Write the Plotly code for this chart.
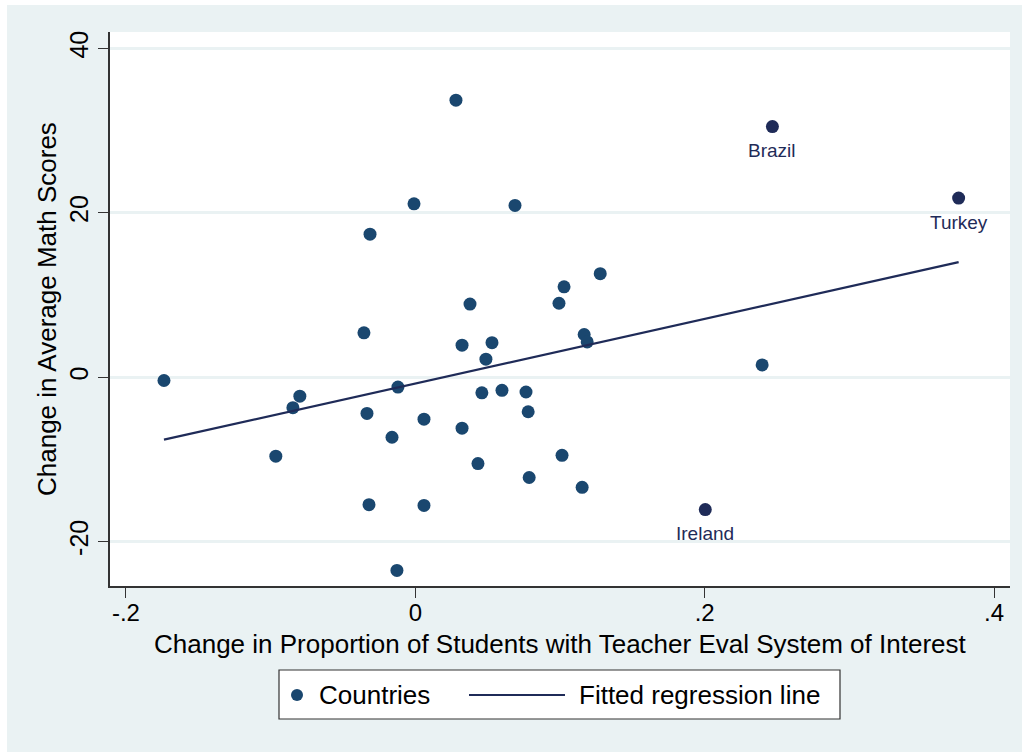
import plotly.graph_objects as go

# Change in share of students under a teacher evaluation system vs change in math scores
prop_change = [
    -0.1737, -0.0964, -0.0846, -0.0798, -0.0355, -0.0334, -0.0320, -0.0313,
    -0.0161, -0.0127, -0.0120, -0.0009, 0.0060, 0.0060, 0.0281, 0.0323,
    0.0323, 0.0378, 0.0433, 0.0460, 0.0488, 0.0530, 0.0599, 0.0689,
    0.0765, 0.0780, 0.0787, 0.0993, 0.1014, 0.1028, 0.1153, 0.1167,
    0.1188, 0.1278, 0.2397,
]
score_change = [
    -0.4, -9.6, -3.7, -2.3, 5.4, -4.4, -15.5, 17.4,
    -7.3, -23.5, -1.2, 21.1, -5.1, -15.6, 33.7, -6.2,
    3.9, 8.9, -10.5, -1.9, 2.2, 4.2, -1.6, 20.9,
    -1.8, -4.2, -12.2, 9.0, -9.5, 11.0, -13.4, 5.2,
    4.3, 12.6, 1.5,
]

# Highlighted countries
hl_names = ["Brazil", "Turkey", "Ireland"]
hl_prop = [0.2468, 0.3755, 0.2004]
hl_score = [30.5, 21.8, -16.1]

# Fitted regression line end points
fit_x = [-0.1737, 0.3755]
fit_y = [-7.6, 14.0]

x_ticks = [-0.2, 0, 0.2, 0.4]
x_tick_text = ["-.2", "0", ".2", ".4"]
y_ticks = [-20, 0, 20, 40]
y_tick_text = ["-20", "0", "20", "40"]

FONT = "Liberation Sans, Arial, sans-serif"
BG = "#EAF2F3"
NAVY = "#1a476f"
DKNAVY = "#1f2b58"
AXIS = "#333333"

fig = go.Figure()

fig.add_trace(go.Scatter(
    x=prop_change, y=score_change, mode="markers",
    marker=dict(size=13, color=NAVY, line=dict(width=0)),
    name="Countries", showlegend=False,
))
fig.add_trace(go.Scatter(
    x=hl_prop, y=hl_score, mode="markers",
    marker=dict(size=13, color=DKNAVY, line=dict(width=0)),
    showlegend=False,
))
fig.add_trace(go.Scatter(
    x=fit_x, y=fit_y, mode="lines",
    line=dict(color=DKNAVY, width=2.2),
    name="Fitted regression line", showlegend=False,
))

annotations = []
for name, px, py in zip(hl_names, hl_prop, hl_score):
    annotations.append(dict(
        x=px, y=py, xref="x", yref="y", text=name, showarrow=False,
        yshift=-24, xanchor="center", yanchor="middle",
        font=dict(family=FONT, size=19, color=DKNAVY),
    ))

# Plot area in pixels: x 110..1010, y 32..586
L, R, T, B = 110, 1010, 32, 586
def px_x(p):
    return (p - L) / (R - L)
def px_y(p):
    return (B - p) / (B - T)

# Axis titles
annotations.append(dict(
    x=0.5, y=px_y(644), xref="paper", yref="paper", showarrow=False,
    text="Change in Proportion of Students with Teacher Eval System of Interest",
    xanchor="center", yanchor="middle",
    font=dict(family=FONT, size=26, color="black"),
))
annotations.append(dict(
    x=px_x(47), y=0.5, xref="paper", yref="paper", showarrow=False,
    text="Change in Average Math Scores", textangle=-90,
    xanchor="center", yanchor="middle",
    font=dict(family=FONT, size=26, color="black"),
))

# Legend box with marker and line keys
leg_cy = 695
annotations.append(dict(
    x=px_x(317), y=px_y(leg_cy), xref="paper", yref="paper", showarrow=False,
    text="Countries", xanchor="left", yanchor="middle",
    font=dict(family=FONT, size=26, color="black"),
))
annotations.append(dict(
    x=px_x(577), y=px_y(leg_cy), xref="paper", yref="paper", showarrow=False,
    text="Fitted regression line", xanchor="left", yanchor="middle",
    font=dict(family=FONT, size=26, color="black"),
))

shapes = [
    # outer background with a thin white margin at top and left
    dict(type="rect", xref="paper", yref="paper", layer="below",
         x0=px_x(0), x1=px_x(1022), y0=px_y(0), y1=px_y(5),
         fillcolor="white", line=dict(width=0)),
    dict(type="rect", xref="paper", yref="paper", layer="below",
         x0=px_x(0), x1=px_x(7), y0=px_y(0), y1=px_y(752),
         fillcolor="white", line=dict(width=0)),
    dict(type="rect", xref="paper", yref="paper",
         x0=px_x(279), x1=px_x(840), y0=px_y(670), y1=px_y(719),
         fillcolor="white", line=dict(color=AXIS, width=1.2)),
    dict(type="circle", xref="paper", yref="paper",
         x0=px_x(291), x1=px_x(303), y0=px_y(leg_cy - 6), y1=px_y(leg_cy + 6),
         fillcolor=NAVY, line=dict(width=0)),
    dict(type="line", xref="paper", yref="paper",
         x0=px_x(469), x1=px_x(565), y0=px_y(leg_cy), y1=px_y(leg_cy),
         line=dict(color=DKNAVY, width=2.2)),
]

fig.update_layout(
    width=1022, height=752,
    margin=dict(l=L, r=1022 - R, t=T, b=752 - B, pad=0),
    paper_bgcolor=BG, plot_bgcolor="white",
    showlegend=False,
    annotations=annotations, shapes=shapes,
    font=dict(family=FONT, color="black"),
    xaxis=dict(
        range=[-0.211, 0.411], tickvals=x_ticks, ticktext=x_tick_text,
        ticks="outside", ticklen=10, tickwidth=1.3, tickcolor=AXIS,
        ticklabelstandoff=-6,
        showline=True, linecolor=AXIS, linewidth=1.5,
        showgrid=False, zeroline=False,
        tickfont=dict(family=FONT, size=24, color="black"),
    ),
    yaxis=dict(
        range=[-25.4, 42], tickvals=y_ticks, ticktext=y_tick_text,
        tickangle=-90,
        ticks="outside", ticklen=10, tickwidth=1.3, tickcolor=AXIS,
        showline=True, linecolor=AXIS, linewidth=1.5,
        showgrid=True, gridcolor=BG, gridwidth=2.5, zeroline=False,
        tickfont=dict(family=FONT, size=25, color="black"),
    ),
)

fig.write_html("out.html")
